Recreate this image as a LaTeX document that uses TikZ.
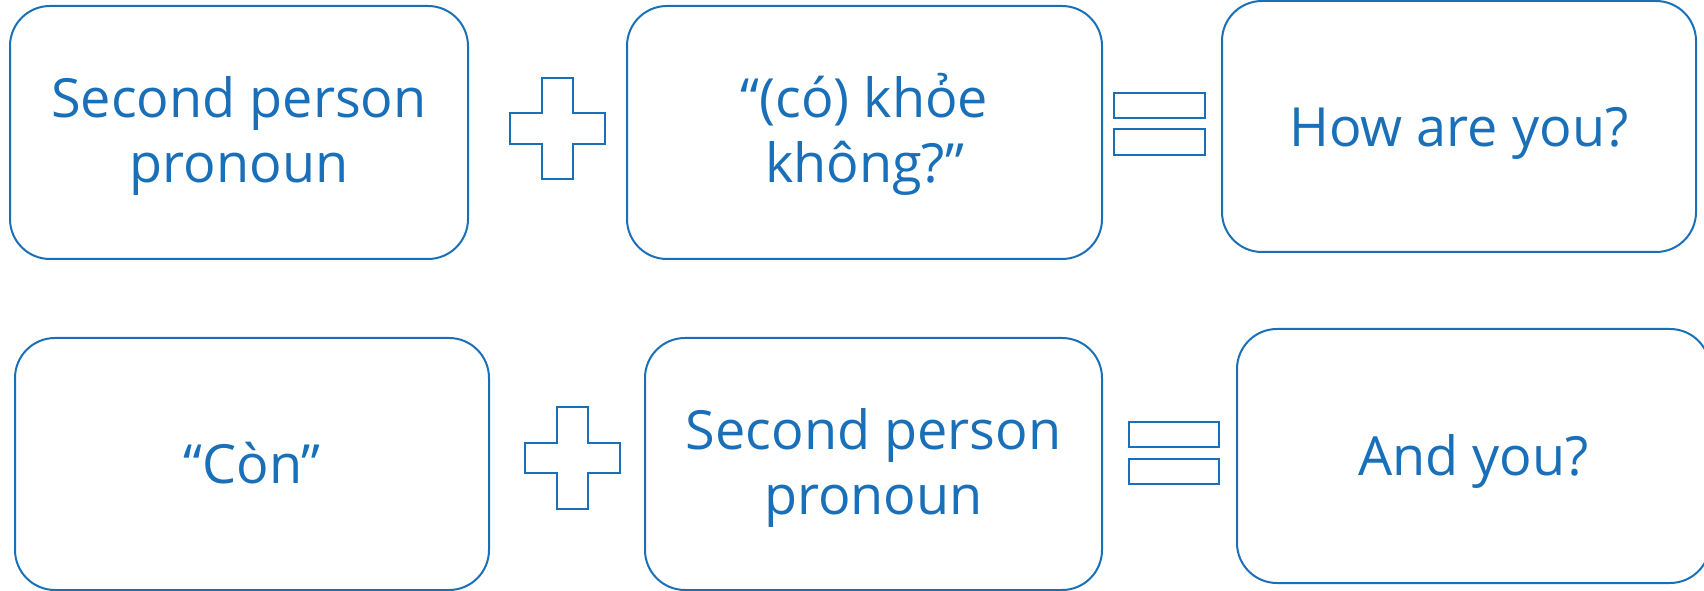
\documentclass[tikz,border=0pt]{standalone}
\usepackage{fontspec}
\setmainfont{Open Sans}
\usepackage{tikz}

\definecolor{boxblue}{RGB}{26,112,184}

\begin{document}
\begin{tikzpicture}[x=0.75pt,y=0.75pt,yscale=-1,xscale=1,
  termbox/.style={draw=boxblue, line width=1.5pt, rounded corners=30pt, inner sep=0pt,
    align=center, text=boxblue, font=\fontsize{40.5pt}{48.75pt}\selectfont, text depth=10pt},
  oneline/.style={termbox, text height=40pt},
  twoline/.style={termbox, text height=85.75pt},
  signshape/.style={draw=boxblue, line width=1.6pt}]
%set diagram left start at 0, and has height of 591
\useasboundingbox (0,0) rectangle (1704,591);
\clip (0,0) rectangle (1704,591);

%Row 1 boxes
\node [twoline, minimum width=343.5pt, minimum height=189.75pt] (pronA) at (239,132.5) {Second person\\pronoun};
\node [twoline, minimum width=356.25pt, minimum height=189.75pt] (khoe) at (864.5,132.5) {“(có) khỏe\\không?”};
\node [oneline, minimum width=355.5pt, minimum height=188.25pt] (howru) at (1459,126.5) {How are you?};

%Row 2 boxes
\node [oneline, minimum width=355.5pt, minimum height=189pt] (con) at (252,464) {“Còn”};
\node [twoline, minimum width=342.75pt, minimum height=189pt] (pronB) at (873.5,464) {Second person\\pronoun};
\node [oneline, minimum width=354.75pt, minimum height=190.5pt] (andyou) at (1473.5,456) {And you?};

%Shape: Plus [row 1]
\draw [signshape] (542,78) -- (573,78) -- (573,113) -- (605,113) -- (605,144) -- (573,144) -- (573,179) -- (542,179) -- (542,144) -- (510,144) -- (510,113) -- (542,113) -- cycle ;
%Shape: Plus [row 2]
\draw [signshape] (557,407) -- (588,407) -- (588,443) -- (620,443) -- (620,473) -- (588,473) -- (588,509) -- (557,509) -- (557,473) -- (525,473) -- (525,443) -- (557,443) -- cycle ;

%Shape: Equal [row 1]
\draw [signshape] (1114,93) rectangle (1205,118) (1114,129) rectangle (1205,155) ;
%Shape: Equal [row 2]
\draw [signshape] (1129,422) rectangle (1219,447) (1129,459) rectangle (1219,484) ;

\end{tikzpicture}
\end{document}
